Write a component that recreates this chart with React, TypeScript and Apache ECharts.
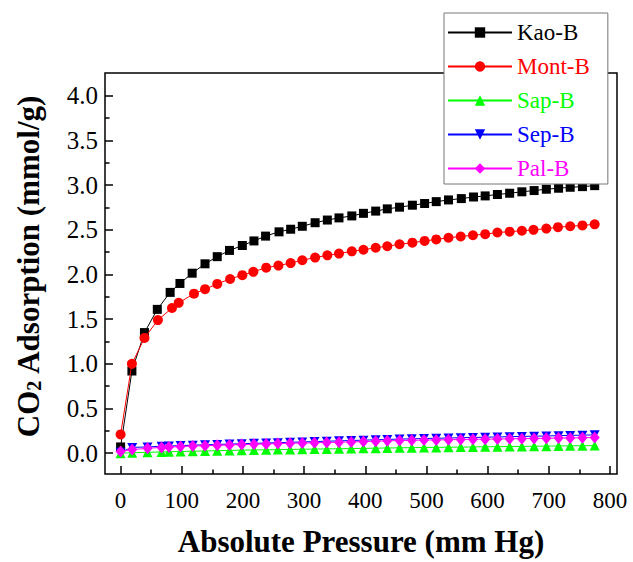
import React, { useEffect, useRef } from 'react';
import * as echarts from 'echarts';

const FONT = 'Liberation Serif';

const seriesNames = ['Kao-B', 'Mont-B', 'Sap-B', 'Sep-B', 'Pal-B'];
const seriesColors = ['#000000', '#ff0000', '#00ff00', '#0000ff', '#ff00ff'];

const kaoPressure = [0, 18.5, 39, 60, 81, 97, 117, 138, 158, 178, 199, 218, 237, 259, 278, 297, 318, 338, 357, 378, 397, 417, 436, 456, 477, 497, 516, 536, 557, 577, 596, 616, 636, 656, 676, 696, 716, 735, 755, 775];
const kaoAdsorption = [0.07, 0.92, 1.35, 1.61, 1.80, 1.90, 2.015, 2.12, 2.20, 2.27, 2.325, 2.376, 2.43, 2.478, 2.507, 2.54, 2.58, 2.61, 2.634, 2.656, 2.685, 2.71, 2.735, 2.754, 2.776, 2.795, 2.816, 2.835, 2.85, 2.868, 2.88, 2.896, 2.91, 2.926, 2.94, 2.955, 2.966, 2.977, 2.984, 2.995];

const montPressure = [0, 18.5, 39, 61, 84, 95, 120, 138, 158, 179, 199, 217, 238, 258, 278, 297, 318, 338, 357, 378, 397, 417, 436, 456, 477, 497, 516, 536, 556, 576, 596, 616, 636, 656, 675, 696, 715, 735, 755, 775];
const montAdsorption = [0.21, 1.00, 1.29, 1.49, 1.625, 1.683, 1.786, 1.836, 1.895, 1.95, 1.993, 2.03, 2.077, 2.10, 2.128, 2.16, 2.19, 2.215, 2.234, 2.26, 2.277, 2.30, 2.317, 2.339, 2.357, 2.376, 2.393, 2.412, 2.426, 2.44, 2.452, 2.47, 2.48, 2.49, 2.50, 2.514, 2.53, 2.54, 2.55, 2.562];

const lowPressure = [0, 19, 44, 67, 79, 98, 118, 138, 158, 178, 198, 218, 238, 257, 277, 297, 317, 337, 357, 377, 397, 417, 436, 456, 476, 496, 516, 536, 556, 576, 596, 616, 636, 656, 676, 696, 716, 735, 755, 775];
const sapAdsorption = [0.0, 0.005, 0.01, 0.014, 0.016, 0.019, 0.022, 0.025, 0.028, 0.031, 0.034, 0.036, 0.038, 0.04, 0.042, 0.044, 0.046, 0.048, 0.05, 0.052, 0.054, 0.056, 0.058, 0.06, 0.062, 0.064, 0.065, 0.067, 0.068, 0.07, 0.072, 0.073, 0.075, 0.076, 0.078, 0.079, 0.081, 0.082, 0.084, 0.085];
const sepAdsorption = [0.01, 0.065, 0.07, 0.078, 0.08, 0.085, 0.09, 0.094, 0.098, 0.102, 0.106, 0.11, 0.114, 0.118, 0.122, 0.126, 0.13, 0.134, 0.138, 0.142, 0.146, 0.15, 0.154, 0.158, 0.161, 0.164, 0.167, 0.17, 0.173, 0.176, 0.179, 0.182, 0.185, 0.188, 0.19, 0.193, 0.196, 0.199, 0.202, 0.205];
const palAdsorption = [0.02, 0.04, 0.055, 0.065, 0.068, 0.075, 0.08, 0.084, 0.088, 0.092, 0.096, 0.10, 0.104, 0.108, 0.111, 0.114, 0.117, 0.12, 0.123, 0.126, 0.13, 0.134, 0.138, 0.141, 0.144, 0.147, 0.149, 0.151, 0.153, 0.155, 0.157, 0.159, 0.161, 0.163, 0.165, 0.167, 0.169, 0.171, 0.173, 0.175];

const xMajorTicks = [0, 100, 200, 300, 400, 500, 600, 700, 800];
const xMinorTicks = [50, 150, 250, 350, 450, 550, 650, 750];
const yMajorTicks = [0, 0.5, 1, 1.5, 2, 2.5, 3, 3.5, 4];
const yMinorTicks = [0.25, 0.75, 1.25, 1.75, 2.25, 2.75, 3.25, 3.75];

const X_MIN = -25.5;
const X_MAX = 811.5;
const Y_MIN = -0.233;
const Y_MAX = 4.256;
// minor tick length expressed in data units (≈4.5 px)
const X_MINOR_LEN = 0.05;
const Y_MINOR_LEN = 7.4;

const zip = (xs: number[], ys: number[]) => xs.map((x, i) => [x, ys[i]]);

const seriesData = [
  zip(kaoPressure, kaoAdsorption),
  zip(montPressure, montAdsorption),
  zip(lowPressure, sapAdsorption),
  zip(lowPressure, sepAdsorption),
  zip(lowPressure, palAdsorption),
];

const seriesSymbols = ['rect', 'circle', 'triangle', 'path://M0,0 L10,0 L5,9 Z', 'diamond'];
const seriesSymbolSizes: any[] = [9, 10, 10, [10, 9], [10, 12]];

const legendRich: any = {};
seriesNames.forEach((_, i) => {
  legendRich['c' + i] = { fontFamily: FONT, fontSize: 23, color: seriesColors[i] };
});

const minorTickMarkLine = {
  silent: true,
  symbol: ['none', 'none'],
  label: { show: false },
  emphasis: { disabled: true },
  lineStyle: { color: '#000000', width: 1.5, type: 'solid' },
  animation: false,
  data: [
    ...xMinorTicks.map((v) => [{ coord: [v, Y_MIN] }, { coord: [v, Y_MIN + X_MINOR_LEN] }]),
    ...yMinorTicks.map((v) => [{ coord: [X_MIN, v] }, { coord: [X_MIN + Y_MINOR_LEN, v] }]),
  ],
};

export default function App() {
  const ref = useRef<HTMLDivElement>(null);

  useEffect(() => {
    if (!ref.current) return;
    const chart = echarts.init(ref.current, null, { renderer: 'svg' });

    const option: any = {
      animation: false,
      backgroundColor: '#ffffff',
      textStyle: { fontFamily: FONT },
      grid: {
        left: 105,
        right: 16,
        top: 73,
        bottom: 78,
        show: true,
        borderColor: '#000',
        borderWidth: 1.5,
        backgroundColor: 'transparent',
      },
      legend: {
        orient: 'vertical',
        left: 444,
        top: 13,
        itemWidth: 64,
        itemHeight: 13,
        itemGap: 11,
        padding: [8, 18, 4, 3],
        backgroundColor: '#ffffff',
        borderColor: '#777777',
        borderWidth: 1,
        textStyle: { fontFamily: FONT, fontSize: 23, rich: legendRich },
        formatter: (name: string) => `{c${seriesNames.indexOf(name)}|${name}}`,
        data: seriesNames.map((n, i) => ({ name: n, textStyle: { color: seriesColors[i] } })),
      },
      xAxis: {
        type: 'value',
        position: 'bottom',
        min: X_MIN,
        max: X_MAX,
        name: '{t|Absolute Pressure (mm Hg)}',
        nameLocation: 'middle',
        nameGap: 52,
        nameTextStyle: {
          rich: { t: { fontFamily: FONT, fontSize: 31, fontWeight: 'bold', color: '#000' } },
        },
        axisLine: { show: false, onZero: false },
        axisTick: { show: true, inside: true, length: 8, customValues: xMajorTicks, lineStyle: { color: '#000', width: 1.5 } },
        splitLine: { show: false },
        axisLabel: {
          customValues: xMajorTicks,
          margin: 15,
          formatter: (v: number) => `{t|${Math.round(v)}}`,
          rich: { t: { fontFamily: FONT, fontSize: 23, color: '#000' } },
        },
      },
      yAxis: {
        type: 'value',
        position: 'left',
        min: Y_MIN,
        max: Y_MAX,
        axisLine: { show: false, onZero: false },
        axisTick: { show: true, inside: true, length: 8, customValues: yMajorTicks, lineStyle: { color: '#000', width: 1.5 } },
        splitLine: { show: false },
        axisLabel: {
          customValues: yMajorTicks,
          margin: 7,
          formatter: (v: number) => `{t|${v.toFixed(1)}}`,
          rich: { t: { fontFamily: FONT, fontSize: 25, color: '#000' } },
        },
      },
      graphic: [
        {
          type: 'text',
          x: 28,
          y: 266,
          rotation: Math.PI / 2,
          style: {
            text: '{n|CO}{s|2}{n| Adsorption (mmol/g)}',
            align: 'center',
            verticalAlign: 'middle',
            fill: '#000',
            rich: {
              n: { fontFamily: FONT, fontSize: 31, fontWeight: 'bold', fill: '#000', lineHeight: 31, verticalAlign: 'top' },
              s: { fontFamily: FONT, fontSize: 20, fontWeight: 'bold', fill: '#000', lineHeight: 20, verticalAlign: 'bottom', padding: [16, 0, 0, 0] },
            },
          },
        },
      ],
      series: seriesNames.map((name, i) => ({
        name,
        type: 'line',
        data: seriesData[i],
        symbol: seriesSymbols[i],
        symbolSize: seriesSymbolSizes[i],
        showAllSymbol: true,
        lineStyle: { color: seriesColors[i], width: 1 },
        itemStyle: { color: seriesColors[i] },
        z: 2 + i,
        ...(i === 0 ? { markLine: minorTickMarkLine } : {}),
      })),
    };

    chart.setOption(option);
    return () => chart.dispose();
  }, []);

  return <div ref={ref} style={{ position: 'fixed', left: 0, top: 0, width: 633, height: 562 }} />;
}
